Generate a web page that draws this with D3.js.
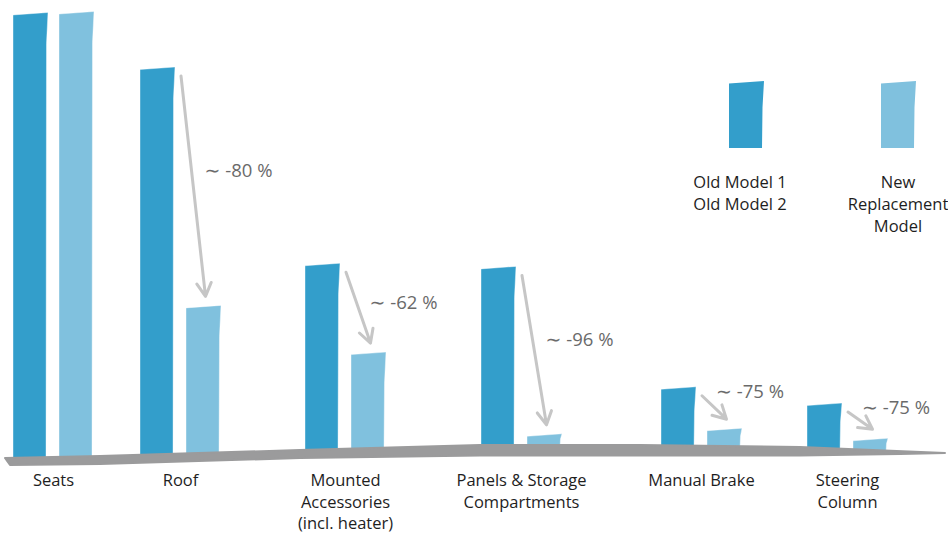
<!DOCTYPE html>
<html>
<head>
<meta charset="utf-8">
<script src="https://cdn.jsdelivr.net/npm/d3@7"></script>
<style>
  body { margin: 0; background: #fff; }
  text { font-family: "Open Sans", "DejaVu Sans", sans-serif; }
</style>
</head>
<body>
<script>
// data (relative units, Seats = 100)
var categories = ["Seats", "Roof", "Mounted", "Panels", "Manual Brake", "Steering"];
var labelLines = [["Seats"], ["Roof"], ["Mounted", "Accessories", "(incl. heater)"],
                  ["Panels & Storage", "Compartments"], ["Manual Brake"], ["Steering", "Column"]];
var oldValues = [100, 87, 41.7, 40, 13, 9.9];
var newValues = [100, 33, 21.4, 2.3, 3.8, 2.4];
var changeLabels = [null, "-80 %", "-62 %", "-96 %", "-75 %", "-75 %"];
var legendOld = ["Old Model 1", "Old Model 2"];
var legendNew = ["New", "Replacement", "Model"];

var width = 948, height = 533;
var barW = 35, pairGap = 46;
var darkBlue = "#339ecb", lightBlue = "#80c1de", gray = "#9b9b9c", arrowGray = "#c6c6c6";

var svg = d3.select("body").append("svg")
    .attr("width", width)
    .attr("height", height);

// groups are hand placed in the original, so an ordinal scale carries the positions
var x = d3.scaleOrdinal().domain(categories).range([13, 140, 305, 481, 661, 807]);
var h = d3.scaleLinear().domain([0, 100]).range([0, 444]);

// wobbly ground line
var groundTop = [[5, 458], [100, 456], [300, 450], [480, 445], [640, 445], [800, 447], [945, 453]];
var groundBottom = [[945, 453], [900, 454], [800, 455.5], [640, 455.5], [480, 455.5], [300, 458], [100, 464], [10, 465]];

function groundY(px) {
    var i = d3.bisector(function (d) { return d[0]; }).left(groundTop, px);
    i = Math.max(1, Math.min(groundTop.length - 1, i));
    var a = groundTop[i - 1], b = groundTop[i];
    return a[1] + (b[1] - a[1]) * (px - a[0]) / (b[0] - a[0]);
}

var bars = [];
categories.forEach(function (c, i) {
    bars.push({ cat: c, i: i, kind: "old", x0: x(c), v: oldValues[i] });
    bars.push({ cat: c, i: i, kind: "new", x0: x(c) + pairGap, v: newValues[i] });
});
bars.forEach(function (d) {
    d.bottom = groundY(d.x0 + barW / 2);
    d.top = d.bottom - h(d.v);
});

var shape = d3.line();
function barPath(x0, top, bottom) {
    var x1 = x0 + barW, hh = bottom - top;
    return shape([[x0, bottom + 3], [x0, top + 1.5], [x1, top - 1],
                  [x1 - 1.5, top + Math.min(0.4 * hh, 30)], [x1 - 2, bottom + 3]]) + "Z";
}

var g = svg.append("g");

g.selectAll("path.bar")
    .data(bars)
    .enter().append("path")
    .attr("class", "bar")
    .attr("d", function (d) { return barPath(d.x0, d.top, d.bottom); })
    .attr("fill", function (d) { return d.kind == "old" ? darkBlue : lightBlue; })
    .attr("stroke", "#fff")
    .attr("stroke-opacity", 0.5)
    .attr("stroke-width", 0.8);

// ground on top of the bar feet
var groundPts = groundTop.concat(groundBottom);
g.append("path")
    .attr("d", d3.line()(groundPts) + "Z")
    .attr("fill", gray)
    .attr("stroke", gray)
    .attr("stroke-width", 2)
    .attr("stroke-linejoin", "round");

// arrows with change labels
var arrows = [];
categories.forEach(function (c, i) {
    if (!changeLabels[i]) return;
    var o = bars[i * 2], n = bars[i * 2 + 1];
    arrows.push({
        label: changeLabels[i],
        x1: o.x0 + barW + 6, y1: o.top + 8,
        x2: n.x0 + barW / 2 + 2, y2: n.top - 10
    });
});

var ag = g.selectAll("g.arrow")
    .data(arrows)
    .enter().append("g")
    .attr("class", "arrow");

ag.append("path")
    .attr("d", function (d) {
        var ang = Math.atan2(d.y2 - d.y1, d.x2 - d.x1), len = 15, spread = 0.5;
        var a1 = [d.x2 - len * Math.cos(ang - spread), d.y2 - len * Math.sin(ang - spread)];
        var a2 = [d.x2 - len * Math.cos(ang + spread), d.y2 - len * Math.sin(ang + spread)];
        return "M" + d.x1 + "," + d.y1 + "L" + d.x2 + "," + d.y2 +
               "M" + a1 + "L" + d.x2 + "," + d.y2 + "L" + a2;
    })
    .attr("fill", "none")
    .attr("stroke", arrowGray)
    .attr("stroke-width", 3)
    .attr("stroke-linecap", "round")
    .attr("stroke-linejoin", "round");

var pct = ag.append("text")
    .attr("x", function (d) {
        if (d.y2 - d.y1 < 40) return d.x1 + 14;
        return d.x1 + 0.43 * (d.x2 - d.x1) + 13;
    })
    .attr("y", function (d) {
        if (d.y2 - d.y1 < 40) return d.y1 + 2;
        return d.y1 + 0.43 * (d.y2 - d.y1) + 6;
    })
    .attr("font-size", 18.5)
    .attr("fill", "#6a6a6a");

pct.append("tspan")
    .style("font-family", "'DejaVu Sans'")
    .attr("font-size", 19)
    .text("\u223c");

pct.append("tspan")
    .text(function (d) { return " " + d.label; });

// category labels
var lab = g.selectAll("text.cat")
    .data(categories)
    .enter().append("text")
    .attr("class", "cat")
    .attr("text-anchor", "middle")
    .attr("font-size", 16.5)
    .attr("fill", "#1e1e1e");

lab.selectAll("tspan")
    .data(function (c, i) { return labelLines[i].map(function (t) { return { t: t, c: c }; }); })
    .enter().append("tspan")
    .attr("x", function (d) { return x(d.c) + (pairGap + barW) / 2; })
    .attr("y", function (d, j) { return 486 + j * 21.5; })
    .text(function (d) { return d.t; });

// legend
var legend = [
    { x0: 729, fill: darkBlue, lines: legendOld, cx: 740 },
    { x0: 881, fill: lightBlue, lines: legendNew, cx: 898 }
];
var lg = g.selectAll("g.legend")
    .data(legend)
    .enter().append("g")
    .attr("class", "legend");

lg.append("path")
    .attr("d", function (d) { return barPath(d.x0, 82, 145); })
    .attr("fill", function (d) { return d.fill; });

lg.append("text")
    .attr("text-anchor", "middle")
    .attr("font-size", 16.5)
    .attr("fill", "#1e1e1e")
    .selectAll("tspan")
    .data(function (d) { return d.lines.map(function (t) { return { t: t, cx: d.cx }; }); })
    .enter().append("tspan")
    .attr("x", function (d) { return d.cx; })
    .attr("y", function (d, j) { return 188 + j * 22; })
    .text(function (d) { return d.t; });
</script>
</body>
</html>
